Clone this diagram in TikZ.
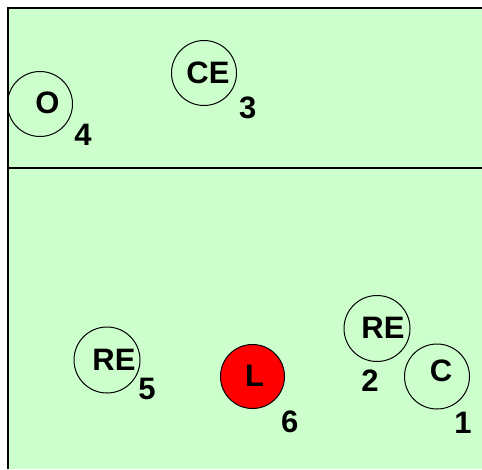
\documentclass[tikz,border=0pt]{standalone}
\usepackage{fontspec}
\setmainfont{Liberation Sans}
\definecolor{field}{HTML}{CCFFCC}
\definecolor{redfill}{HTML}{FF0000}
\begin{document}
\begin{tikzpicture}[x=1pt,y=-1pt,
  ring/.style={circle,draw=black,line width=1pt,inner sep=0pt,minimum size=65pt},
  lbl/.style={inner sep=0pt,font=\fontsize{31}{33}\selectfont\bfseries}]
\useasboundingbox (0,0) rectangle (482,469);
\fill[white] (0,0) rectangle (482,469);
\fill[field] (8,8) rectangle (482,469);
\draw[line width=1.5pt] (8,469) -- (8,8) -- (482,8);
\draw[line width=1.5pt] (8,168) -- (482,168);
% circles
\node[ring] (O) at (40,104) {};
\node[ring] (CE) at (204,73) {};
\node[ring,minimum size=66pt] (RE5) at (107,360) {};
\node[ring,fill=redfill,minimum size=64pt] (L) at (252.5,376.5) {};
\node[ring,minimum size=66pt] (RE2) at (377,328.5) {};
\node[ring] (C) at (437,376.5) {};
% texts in circles
\node[lbl] (Ot) at (47.5,102.5) {O};
\node[lbl] (CEt) at (208,72.5) {CE};
\node[lbl] (RE5t) at (114,360) {RE};
\node[lbl] (Lt) at (254.5,375.7) {L};
\node[lbl] (RE2t) at (383,328.3) {RE};
\node[lbl] (Ct) at (441,371) {C};
% numbers
\node[lbl] (n4) at (83,134.5) {4};
\node[lbl] (n3) at (247.7,107.5) {3};
\node[lbl] (n5) at (147,389) {5};
\node[lbl] (n6) at (289.7,422) {6};
\node[lbl] (n2) at (370,381) {2};
\node[lbl] (n1) at (463,422.5) {1};
\end{tikzpicture}
\end{document}
